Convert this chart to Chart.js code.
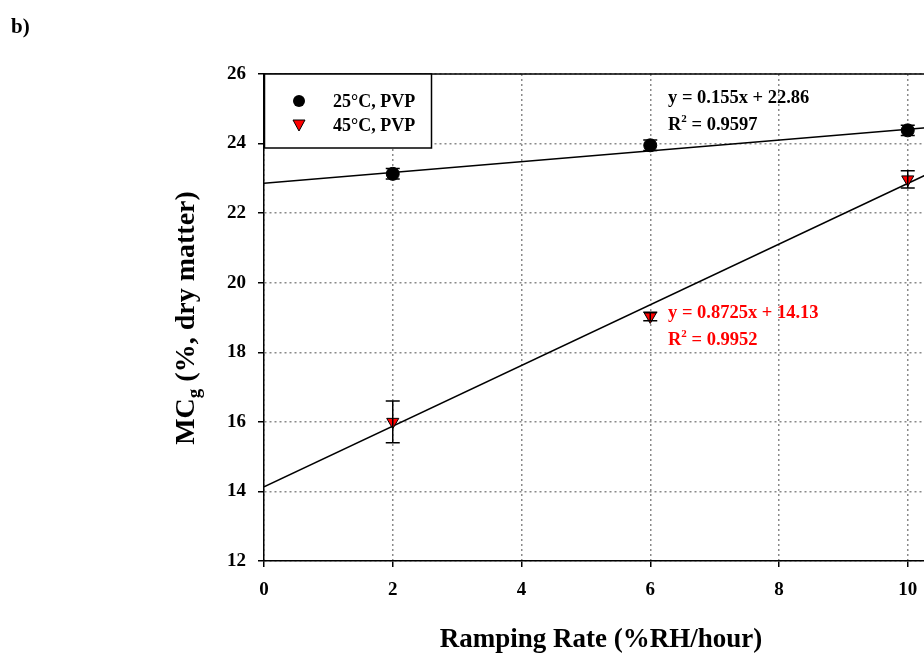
<!DOCTYPE html>
<html>
<head>
<meta charset="utf-8">
<script src="https://cdn.jsdelivr.net/npm/chart.js@4/dist/chart.umd.min.js"></script>
<style>
    html, body { margin: 0; padding: 0; background: #fff; overflow: hidden; }
    #wrap { width: 924px; height: 654px; overflow: hidden; position: relative; }
    canvas { display: block; }
</style>
</head>
<body>
<div id="wrap"><canvas id="mcChart" width="1058" height="654"></canvas></div>
<script>
// data
const rates = [2, 6, 10]
const mc25 = [23.13, 23.95, 24.38]
const err25 = [0.15, 0.15, 0.15]
const mc45 = [16.0, 19.03, 22.97]
const err45 = [0.6, 0.12, 0.25]

// regression lines, endpoints at x = 0 and x = 12
const fitX = [0, 12]
const fit25 = [22.86, 24.72]
const fit45 = [14.13, 24.6]

const xTicks = [0, 2, 4, 6, 8, 10, 12]
const yTicks = [12, 14, 16, 18, 20, 22, 24, 26]

const serif = '"Liberation Serif", "Times New Roman", serif'

function toPoints(xs, ys) {
    return xs.map((x, i) => ({ x, y: ys[i] }))
}

const extrasPlugin = {
    id: 'extras',
    afterDatasetsDraw(chart) {
        const ctx = chart.ctx
        const xs = chart.scales.x
        const ys = chart.scales.y

        // error bars
        const drawErr = (vals, errs) => {
            ctx.save()
            ctx.strokeStyle = '#000'
            ctx.lineWidth = 1.5
            vals.forEach((v, i) => {
                const px = xs.getPixelForValue(rates[i])
                const top = ys.getPixelForValue(v + errs[i])
                const bot = ys.getPixelForValue(v - errs[i])
                ctx.beginPath()
                ctx.moveTo(px, top); ctx.lineTo(px, bot)
                ctx.moveTo(px - 7, top); ctx.lineTo(px + 7, top)
                ctx.moveTo(px - 7, bot); ctx.lineTo(px + 7, bot)
                ctx.stroke()
            })
            ctx.restore()
        }
        drawErr(mc25, err25)
        drawErr(mc45, err45)
    },
    afterDraw(chart) {
        const ctx = chart.ctx
        const area = chart.chartArea
        ctx.save()

        // top frame line
        ctx.strokeStyle = '#000'
        ctx.lineWidth = 1.5
        ctx.beginPath()
        ctx.moveTo(area.left, area.top)
        ctx.lineTo(area.right, area.top)
        ctx.stroke()

        // legend box
        ctx.fillStyle = '#fff'
        ctx.fillRect(area.left, area.top, 167, 74)
        ctx.strokeRect(area.left + 0.5, area.top, 167, 74)

        ctx.fillStyle = '#000'
        ctx.beginPath()
        ctx.arc(area.left + 35, area.top + 27, 6, 0, Math.PI * 2)
        ctx.fill()

        ctx.fillStyle = '#ff0000'
        ctx.lineWidth = 1
        ctx.beginPath()
        const tx = area.left + 35, ty = area.top + 51
        ctx.moveTo(tx - 6, ty - 5)
        ctx.lineTo(tx + 6, ty - 5)
        ctx.lineTo(tx, ty + 6)
        ctx.closePath()
        ctx.fill()
        ctx.stroke()

        ctx.fillStyle = '#000'
        ctx.font = 'bold 18px ' + serif
        ctx.textBaseline = 'alphabetic'
        ctx.textAlign = 'left'
        ctx.fillText('25°C, PVP', area.left + 69, area.top + 33)
        ctx.fillText('45°C, PVP', area.left + 69, area.top + 57)

        // regression equations
        const eq = (text, x, y, color) => {
            ctx.fillStyle = color
            ctx.font = 'bold 18.5px ' + serif
            ctx.fillText(text, x, y)
        }
        const r2 = (val, x, y, color) => {
            ctx.fillStyle = color
            ctx.font = 'bold 18.5px ' + serif
            ctx.fillText('R', x, y)
            const w = ctx.measureText('R').width
            ctx.font = 'bold 11px ' + serif
            ctx.fillText('2', x + w, y - 8)
            const w2 = ctx.measureText('2').width
            ctx.font = 'bold 18.5px ' + serif
            ctx.fillText(' = ' + val, x + w + w2, y)
        }
        eq('y = 0.155x + 22.86', 668, 103, '#000')
        r2('0.9597', 668, 130, '#000')
        eq('y = 0.8725x + 14.13', 668, 318, '#ff0000')
        r2('0.9952', 668, 345, '#ff0000')

        // axis titles
        ctx.fillStyle = '#000'
        ctx.font = 'bold 27px ' + serif
        ctx.textAlign = 'center'
        ctx.fillText('Ramping Rate (%RH/hour)', 601, 647)

        ctx.save()
        ctx.translate(194, 318)
        ctx.rotate(-Math.PI / 2)
        ctx.textAlign = 'left'
        const big = 'bold 28px ' + serif
        const small = 'bold 19px ' + serif
        ctx.font = big
        const wMC = ctx.measureText('MC').width
        const wRest = ctx.measureText(' (%, dry matter)').width
        ctx.font = small
        const wG = ctx.measureText('g').width
        const sx = -(wMC + wG + wRest) / 2
        ctx.font = big
        ctx.fillText('MC', sx, 0)
        ctx.font = small
        ctx.fillText('g', sx + wMC, 6)
        ctx.font = big
        ctx.fillText(' (%, dry matter)', sx + wMC + wG, 0)
        ctx.restore()

        // panel label
        ctx.font = 'bold 21px ' + serif
        ctx.textAlign = 'left'
        ctx.fillText('b)', 11, 33)

        ctx.restore()
    }
}

new Chart(document.getElementById('mcChart').getContext('2d'), {
    type: 'scatter',
    data: {
        datasets: [
            {
                label: '25°C, PVP',
                data: toPoints(rates, mc25),
                pointStyle: 'circle',
                pointRadius: 6.5,
                backgroundColor: '#000',
                borderColor: '#000',
                order: 1,
            },
            {
                label: '45°C, PVP',
                data: toPoints(rates, mc45),
                pointStyle: 'triangle',
                rotation: 180,
                pointRadius: 7,
                backgroundColor: '#ff0000',
                borderColor: '#000',
                borderWidth: 1,
                order: 1,
            },
            {
                label: 'fit 25',
                data: toPoints(fitX, fit25),
                showLine: true,
                pointRadius: 0,
                borderColor: '#000',
                borderWidth: 1.5,
                order: 2,
            },
            {
                label: 'fit 45',
                data: toPoints(fitX, fit45),
                showLine: true,
                pointRadius: 0,
                borderColor: '#000',
                borderWidth: 1.5,
                order: 2,
            },
        ],
    },
    options: {
        responsive: false,
        animation: false,
        layout: { padding: { top: 74, right: 14, bottom: 0, left: 0 } },
        plugins: {
            legend: { display: false },
            tooltip: { enabled: false },
        },
        scales: {
            x: {
                type: 'linear',
                min: 0,
                max: 12,
                afterBuildTicks: scale => { scale.ticks = xTicks.map(v => ({ value: v })) },
                afterFit: scale => { scale.height = 93 },
                ticks: {
                    color: '#000',
                    padding: 12,
                    font: { family: serif, size: 19, weight: 'bold' },
                },
                grid: {
                    color: '#8a8a8a',
                    lineWidth: 1.5,
                    tickColor: '#000',
                    tickLength: 6,
                    tickWidth: 1.5,
                },
                border: { color: '#000', width: 1.5, dash: [2, 3] },
            },
            y: {
                min: 12,
                max: 26,
                afterBuildTicks: scale => { scale.ticks = yTicks.map(v => ({ value: v })) },
                afterFit: scale => { scale.width = 264 },
                ticks: {
                    color: '#000',
                    padding: 12,
                    font: { family: serif, size: 19, weight: 'bold' },
                },
                grid: {
                    color: '#8a8a8a',
                    lineWidth: 1.5,
                    tickColor: '#000',
                    tickLength: 6,
                    tickWidth: 1.5,
                },
                border: { color: '#000', width: 1.5, dash: [2, 3] },
            },
        },
    },
    plugins: [extrasPlugin],
})
</script>
</body>
</html>
